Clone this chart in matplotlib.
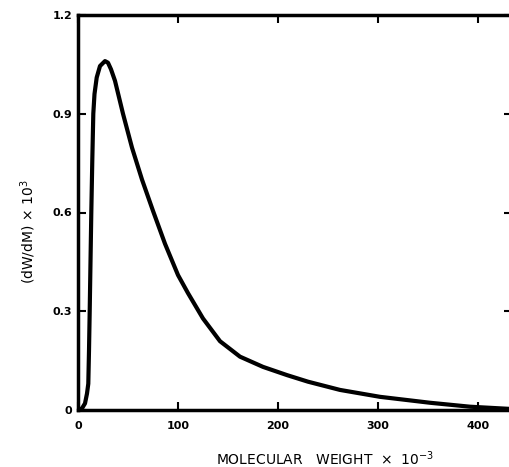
import matplotlib
matplotlib.use("Agg")
import matplotlib.pyplot as plt

# Data (molecular weight x 1e-3, dW/dM x 1e3)
mw = [0, 4, 7, 9, 10.3, 11, 11.7, 12.5, 13.3, 14.3, 15.3, 16.5, 18.7, 22, 27,
      30, 33, 37, 41, 45, 54, 64, 75, 87, 100, 110, 125, 142, 162, 185, 209,
      230, 262, 302, 352, 392, 434]
dwdm = [0, 0.005, 0.02, 0.05, 0.08, 0.18, 0.30, 0.45, 0.60, 0.76, 0.90, 0.96,
        1.01, 1.045, 1.06, 1.055, 1.035, 1.0, 0.95, 0.90, 0.797, 0.70, 0.605,
        0.505, 0.41, 0.355, 0.278, 0.209, 0.162, 0.131, 0.106, 0.086,
        0.061, 0.040, 0.022, 0.010, 0.003]

xticks = [0, 100, 200, 300, 400]
xticklabels = ["0", "100", "200", "300", "400"]
yticks = [0, 0.3, 0.6, 0.9, 1.2]
yticklabels = ["0", "0.3", "0.6", "0.9", "1.2"]

W, H = 510, 467
fig = plt.figure(figsize=(W / 100, H / 100), dpi=100)
left, right, top, bottom = 78, 512, 15, 410
ax = fig.add_axes([left / W, (H - bottom) / H, (right - left) / W, (bottom - top) / H])

ax.plot(mw, dwdm, color="black", lw=3.0, solid_capstyle="round", solid_joinstyle="round")
ax.set_xlim(0, 434)
ax.set_ylim(0, 1.2)

for s in ax.spines.values():
    s.set_linewidth(2.5)

ax.set_xticks(xticks)
ax.set_xticklabels(xticklabels, fontsize=8, fontweight="bold")
ax.set_yticks(yticks)
ax.set_yticklabels(yticklabels, fontsize=8, fontweight="bold")
ax.tick_params(axis="both", direction="in", length=6, width=1.5, top=True, right=True)
ax.tick_params(axis="x", pad=8)
ax.tick_params(axis="y", pad=4)

fig.text(325 / W, 1 - 459 / H, r"MOLECULAR   WEIGHT  $\times$  10$^{-3}$",
         ha="center", va="center", fontsize=10)
fig.text(28 / W, 1 - 232 / H, r"(dW/dM) $\times$ 10$^{3}$", rotation=90,
         ha="center", va="center", fontsize=10)

fig.savefig("out.png", dpi=100)
